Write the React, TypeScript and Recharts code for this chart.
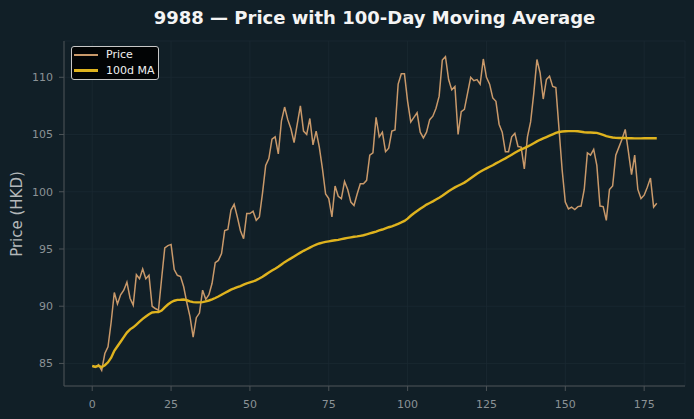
import { LineChart, Line, XAxis, YAxis, CartesianGrid } from 'recharts';

const title = '9988 — Price with 100-Day Moving Average';

// trading day index 0..179
const price = [
  84.77, 84.65, 84.9, 84.4, 85.87, 86.45, 88.6, 91.2, 90.2, 91.0,
  91.4, 92.1, 90.7, 90.1, 92.75, 92.4, 93.25, 92.4, 92.7, 90.0,
  89.8, 89.65, 92.4, 95.1, 95.3, 95.4, 93.2, 92.7, 92.6, 91.7,
  90.3, 89.1, 87.3, 89.0, 89.4, 91.4, 90.6, 91.0, 92.0, 93.8,
  94.0, 94.6, 96.6, 96.7, 98.4, 98.9, 97.8, 96.6, 95.9, 98.1,
  98.1, 98.3, 97.5, 97.8, 99.9, 102.3, 102.9, 104.6, 104.8, 103.3,
  106.2, 107.4, 106.3, 105.5, 104.3, 105.9, 107.5, 105.3, 105.0, 106.4,
  104.1, 105.3, 103.9, 102.0, 99.8, 99.4, 97.8, 100.5, 99.6, 99.4,
  100.9, 100.2, 99.1, 98.8, 99.8, 100.7, 100.7, 101.0, 103.2, 103.4,
  106.5, 104.8, 105.2, 103.5, 103.8, 105.3, 105.4, 109.4, 110.3, 110.3,
  107.9, 106.1, 106.5, 106.9, 105.2, 104.7, 105.2, 106.3, 106.6, 107.3,
  108.35, 111.5, 111.8, 109.8, 108.9, 109.2, 105.0, 107.0, 107.2, 108.6,
  110.0, 109.7, 109.8, 109.4, 111.6, 110.0, 109.4, 108.2, 107.9, 105.9,
  105.2, 103.5, 103.5, 104.8, 105.1, 103.95, 103.9, 102.0, 104.8, 106.1,
  108.6, 111.55, 110.4, 108.1, 109.8, 110.1, 109.2, 109.1, 105.5, 101.9,
  99.1, 98.5, 98.65, 98.45, 98.7, 98.75, 100.2, 103.4, 103.2, 103.7,
  102.3, 98.75, 98.7, 97.5, 100.2, 100.5, 103.2, 103.9, 104.6, 105.45,
  103.5, 101.5, 103.2, 100.2, 99.4, 99.7, 100.4, 101.2, 98.65, 99.0,
];

const ma100 = [
  84.78, 84.72, 84.8, 84.68, 84.85, 85.1, 85.5, 86.1, 86.5, 86.9,
  87.3, 87.7, 87.98, 88.15, 88.4, 88.65, 88.9, 89.1, 89.3, 89.45,
  89.48, 89.48, 89.62, 89.9, 90.15, 90.35, 90.48, 90.55, 90.56, 90.58,
  90.52, 90.42, 90.36, 90.34, 90.34, 90.36, 90.42, 90.5, 90.6, 90.72,
  90.85, 91.0, 91.15, 91.3, 91.45, 91.55, 91.66, 91.76, 91.88, 92.0,
  92.08, 92.16, 92.28, 92.42, 92.58, 92.76, 92.94, 93.12, 93.28, 93.45,
  93.65, 93.85, 94.02, 94.18, 94.35, 94.52, 94.68, 94.84, 94.98, 95.12,
  95.26, 95.38, 95.48, 95.56, 95.62, 95.67, 95.72, 95.76, 95.8, 95.86,
  95.92, 95.97, 96.02, 96.07, 96.1, 96.15, 96.2, 96.28, 96.36, 96.44,
  96.52, 96.62, 96.7, 96.8, 96.9, 96.98, 97.08, 97.2, 97.32, 97.45,
  97.65, 97.9, 98.12, 98.32, 98.52, 98.7, 98.88, 99.02, 99.16, 99.32,
  99.48, 99.65, 99.85, 100.05, 100.22, 100.38, 100.52, 100.66, 100.8, 100.98,
  101.18, 101.38, 101.58, 101.74, 101.9, 102.04, 102.18, 102.32, 102.48, 102.62,
  102.78, 102.92, 103.08, 103.24, 103.4, 103.56, 103.7, 103.82, 103.94, 104.08,
  104.24, 104.4, 104.54, 104.66, 104.78, 104.9, 105.02, 105.14, 105.22, 105.26,
  105.28, 105.3, 105.3, 105.3, 105.28, 105.24, 105.2, 105.18, 105.17, 105.16,
  105.14, 105.06, 104.96, 104.86, 104.8, 104.74, 104.71, 104.7, 104.7, 104.69,
  104.68, 104.67, 104.66, 104.66, 104.66, 104.67, 104.68, 104.68, 104.68, 104.68,
];

const xTicks = [0, 25, 50, 75, 100, 125, 150, 175];
const yTicks = [85, 90, 95, 100, 105, 110];

const data = price.map((p, i) => ({ day: i, price: p, ma: ma100[i] }));

const BG = '#111f27';
const PRICE_COLOR = '#c9996a';
const MA_COLOR = '#dfb31e';
const TICK_COLOR = '#8b9296';
const AXIS_COLOR = '#4c5357';
const GRID_COLOR = '#1b2a32';
const FONT = '"DejaVu Sans", sans-serif';

const legendItems = [
  { label: 'Price', color: PRICE_COLOR, h: 2, top: 8 },
  { label: '100d MA', color: MA_COLOR, h: 2.5, top: 23.5 },
];

// legend box in the upper-left corner of the plot
const LegendBox = () => (
  <div
    style={{
      position: 'absolute',
      left: 71,
      top: 46,
      width: 88,
      height: 34,
      boxSizing: 'border-box',
      background: '#020405',
      border: '1px solid #c8c8c8',
      borderRadius: 3,
      fontSize: 11,
      color: '#f0f0f0',
    }}
  >
    {legendItems.map((item) => (
      <div key={item.label}>
        <div
          style={{
            position: 'absolute',
            left: 2,
            top: item.top - item.h / 2,
            width: 24,
            height: item.h,
            background: item.color,
          }}
        />
        <div
          style={{
            position: 'absolute',
            left: 34,
            top: item.top - 7,
            lineHeight: '14px',
            whiteSpace: 'nowrap',
          }}
        >
          {item.label}
        </div>
      </div>
    ))}
  </div>
);

export default function App() {
  return (
    <div
      style={{
        position: 'absolute',
        left: 0,
        top: 0,
        width: 694,
        height: 419,
        background: BG,
        fontFamily: FONT,
      }}
    >
      <div
        style={{
          position: 'absolute',
          left: 0,
          width: 749,
          top: 7,
          textAlign: 'center',
          color: '#f4f4f4',
          fontWeight: 'bold',
          fontSize: 18,
          lineHeight: '22px',
          whiteSpace: 'nowrap',
        }}
      >
        {title}
      </div>
      <div
        style={{
          position: 'absolute',
          left: 17,
          top: 214,
          transform: 'translate(-50%, -50%) rotate(-90deg)',
          color: '#b4b8ba',
          fontSize: 15,
          whiteSpace: 'nowrap',
        }}
      >
        Price (HKD)
      </div>
      <LineChart
        width={694}
        height={419}
        data={data}
        margin={{ top: 41, right: 9, bottom: 3, left: 10 }}
        style={{ position: 'absolute', left: 0, top: 0 }}
      >
        <CartesianGrid stroke={GRID_COLOR} strokeWidth={0.8} />
        <XAxis
          type="number"
          dataKey="day"
          domain={[-8.95, 187.95]}
          ticks={xTicks}
          height={30}
          stroke={AXIS_COLOR}
          tickSize={5}
          tickMargin={9}
          tick={{ fill: TICK_COLOR, fontSize: 11, fontFamily: FONT }}
        />
        <YAxis
          type="number"
          domain={[83.03, 113.17]}
          ticks={yTicks}
          width={54}
          stroke={AXIS_COLOR}
          tickSize={5}
          tickMargin={6}
          tick={{ fill: TICK_COLOR, fontSize: 11, fontFamily: FONT }}
        />
        <Line
          type="linear"
          dataKey="price"
          name="Price"
          stroke={PRICE_COLOR}
          strokeWidth={1.5}
          dot={false}
          isAnimationActive={false}
        />
        <Line
          type="linear"
          dataKey="ma"
          name="100d MA"
          stroke={MA_COLOR}
          strokeWidth={2.4}
          dot={false}
          isAnimationActive={false}
        />
      </LineChart>
      <LegendBox />
    </div>
  );
}
